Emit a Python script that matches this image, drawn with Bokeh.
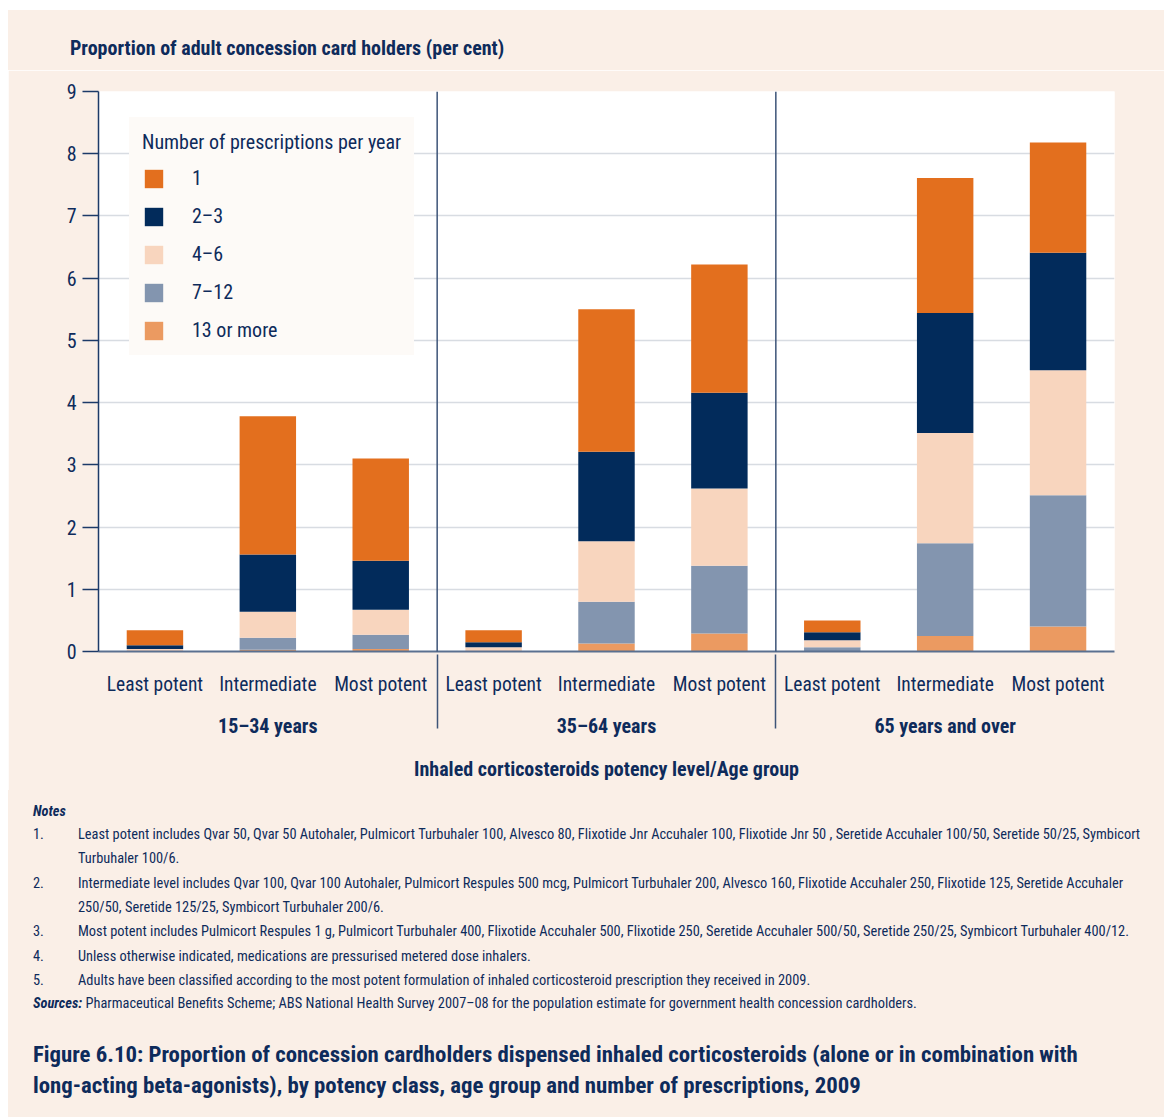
from bokeh.plotting import figure
from bokeh.layouts import column
from bokeh.models import (FactorRange, Range1d, ColumnDataSource, Legend, LegendItem,
                          Arrow, FixedTicker, Div)
from bokeh.embed import file_html
from bokeh.resources import INLINE

# ---------------- data ----------------
groups = ["15–34 years", "35–64 years", "65 years and over"]
potency = ["Least potent", "Intermediate", "Most potent"]
series = ["1", "2–3", "4–6", "7–12", "13 or more"]          # legend order
# values per bar: group1 (least, inter, most), group2 (...), group3 (...)
s_1 = [0.24, 2.22, 1.64, 0.19, 2.29, 2.06, 0.19, 2.17, 1.77]
s_2_3 = [0.06, 0.92, 0.79, 0.08, 1.44, 1.54, 0.13, 1.93, 1.89]
s_4_6 = [0.03, 0.42, 0.40, 0.06, 0.97, 1.24, 0.11, 1.77, 2.01]
s_7_12 = [0.01, 0.19, 0.23, 0.01, 0.67, 1.09, 0.06, 1.49, 2.11]
s_13 = [0.00, 0.03, 0.04, 0.00, 0.13, 0.29, 0.01, 0.25, 0.40]
y_ticks = [0, 1, 2, 3, 4, 5, 6, 7, 8, 9]

y_title = "Proportion of adult concession card holders (per cent)"
x_title = "Inhaled corticosteroids potency level/Age group"
legend_title = "Number of prescriptions per year"
notes = [
    ("1.", ["Least potent includes Qvar 50, Qvar 50 Autohaler, Pulmicort Turbuhaler 100, Alvesco 80, Flixotide Jnr Accuhaler 100, Flixotide Jnr 50 , Seretide Accuhaler 100/50, Seretide 50/25, Symbicort",
            "Turbuhaler 100/6."]),
    ("2.", ["Intermediate level includes Qvar 100, Qvar 100 Autohaler, Pulmicort Respules 500 mcg, Pulmicort Turbuhaler 200, Alvesco 160, Flixotide Accuhaler 250, Flixotide 125, Seretide Accuhaler",
            "250/50, Seretide 125/25, Symbicort Turbuhaler 200/6."]),
    ("3.", ["Most potent includes Pulmicort Respules 1 g, Pulmicort Turbuhaler 400, Flixotide Accuhaler 500, Flixotide 250, Seretide Accuhaler 500/50, Seretide 250/25, Symbicort Turbuhaler 400/12."]),
    ("4.", ["Unless otherwise indicated, medications are pressurised metered dose inhalers."]),
    ("5.", ["Adults have been classified according to the most potent formulation of inhaled corticosteroid prescription they received in 2009."]),
]
sources = "Pharmaceutical Benefits Scheme; ABS National Health Survey 2007–08 for the population estimate for government health concession cardholders."
caption = ["Figure 6.10: Proportion of concession cardholders dispensed inhaled corticosteroids (alone or in combination with",
           "long-acting beta-agonists), by potency class, age group and number of prescriptions, 2009"]

# ---------------- styles ----------------
FONT = "Roboto Condensed, Liberation Sans Narrow, Roboto, sans-serif"
TXT = "#0E2B5B"
BG = "#FAEFE7"
colors = {"1": "#E36F1E", "2–3": "#022B5B", "4–6": "#F8D5BE",
          "7–12": "#8395AF", "13 or more": "#EB9A61"}

factors = [(g, q) for g in groups for q in potency]
values = {"1": s_1, "2–3": s_2_3, "4–6": s_4_6, "7–12": s_7_12, "13 or more": s_13}
src = ColumnDataSource(data=dict(x=factors, **values))

TOP_H = 60                    # header div: page y 10 .. 70
FIG_H = 720                   # figure: page y 70 .. 790
FRAME_TOP = 91 - 10 - TOP_H   # frame top inside the figure canvas
p = figure(x_range=FactorRange(*factors, range_padding=0, group_padding=0, factor_padding=0,
                               subgroup_padding=0),
           y_range=Range1d(0, 9),
           width=1156, height=FIG_H, output_backend="svg", toolbar_location=None,
           min_border_left=90, min_border_right=50, min_border_top=FRAME_TOP,
           min_border_bottom=FIG_H - FRAME_TOP - 560,
           background_fill_color="white", border_fill_color=BG, outline_line_color=None,
           margin=(0, 0, 0, 8))

stack_order = series[::-1]  # bottom to top
rends = p.vbar_stack(stack_order, x="x", width=0.5, source=src,
                     color=[colors[s] for s in stack_order], line_color=None)
rmap = dict(zip(stack_order, rends))

# axes
p.yaxis.ticker = FixedTicker(ticks=y_ticks)
p.yaxis.major_tick_out = 16
p.yaxis.major_tick_in = 0
p.yaxis.minor_tick_line_color = None
p.yaxis.axis_line_color = "#1C3A68"
p.yaxis.axis_line_width = 1.5
p.yaxis.major_tick_line_color = "#1C3A68"
p.yaxis.major_tick_line_width = 1.5
p.yaxis.major_label_text_font = FONT
p.yaxis.major_label_text_font_size = "20px"
p.yaxis.major_label_text_color = TXT
p.yaxis.major_label_standoff = 6

p.xaxis.major_tick_line_color = None
p.xaxis.axis_line_color = "#5A7090"
p.xaxis.axis_line_width = 2
p.xaxis.major_label_text_font = FONT
p.xaxis.major_label_text_font_size = "19.5px"
p.xaxis.major_label_text_color = TXT
p.xaxis.major_label_text_line_height = 0.8
p.xaxis.major_label_standoff = 15
p.xaxis.group_text_font = FONT
p.xaxis.group_text_font_size = "20px"
p.xaxis.group_text_font_style = "bold"
p.xaxis.group_text_color = TXT
p.xaxis.separator_line_color = "#3D5478"
p.xaxis.separator_line_width = 1.5
p.xaxis.axis_label = x_title
p.xaxis.axis_label_text_font = FONT
p.xaxis.axis_label_text_font_size = "20px"
p.xaxis.axis_label_text_font_style = "bold"
p.xaxis.axis_label_text_color = TXT
p.xaxis.axis_label_standoff = 16

p.xgrid.grid_line_color = None
p.ygrid.grid_line_color = "#D8DCE2"
p.ygrid.grid_line_width = 1.5

# group separators
n = len(potency)
for i in range(1, len(groups)):
    p.add_layout(Arrow(end=None, x_start=i * n, y_start=9, x_end=i * n, y_end=-1.37,
                       line_color="#3D5478", line_width=1.5))

legend = Legend(items=[LegendItem(label=s, renderers=[rmap[s]]) for s in series],
                location=(31, 296), title=legend_title,
                title_text_font=FONT, title_text_font_size="20px", title_text_font_style="normal",
                title_text_color=TXT, title_standoff=12,
                label_text_font=FONT, label_text_font_size="20px", label_text_color=TXT,
                glyph_width=23, glyph_height=23, label_standoff=27, spacing=14, padding=13,
                margin=0, background_fill_color="#FDFAF7", background_fill_alpha=1,
                border_line_alpha=0)
p.add_layout(legend)


# ---------------- HTML text blocks ----------------
def line(x, yc, top0, html, size=14.4, lh=20, extra=""):
    top = yc - lh / 2 - top0
    return (f'<div style="position:absolute;left:{x - 8}px;top:{top}px;line-height:{lh}px;'
            f'font-size:{size}px;white-space:nowrap;{extra}">{html}</div>')


def block(parts, h):
    return (f'<div style="position:relative;width:1156px;height:{h}px;background:{BG};'
            f'font-family:{FONT};color:{TXT};overflow:hidden;">' + "".join(parts) + "</div>")


head = Div(text=block([line(70, 48, 10, y_title, size=20, lh=24, extra="font-weight:bold;")], TOP_H),
           width=1156, height=TOP_H, margin=(10, 0, 0, 8))

DIV_TOP = 10 + TOP_H + FIG_H          # page y where the notes div starts
DIV_H = 1117 - DIV_TOP
parts = [line(33, 812, DIV_TOP, "<b><i>Notes</i></b>")]
yy = 835
for num, lines in notes:
    parts.append(line(33, yy, DIV_TOP, num))
    for ln in lines:
        parts.append(line(78, yy, DIV_TOP, ln))
        yy += 24.3
parts.append(line(33, 1004, DIV_TOP, f"<b><i>Sources:</i></b> {sources}"))
parts.append(line(33, 1055, DIV_TOP, caption[0], size=22.8, lh=28, extra="font-weight:bold;"))
parts.append(line(33, 1086, DIV_TOP, caption[1], size=22.8, lh=28, extra="font-weight:bold;"))
foot = Div(text=block(parts, DIV_H), width=1156, height=DIV_H, margin=(0, 0, 0, 8))

layout = column(head, p, foot, spacing=0)
open("out.html", "w").write(file_html(layout, INLINE))
